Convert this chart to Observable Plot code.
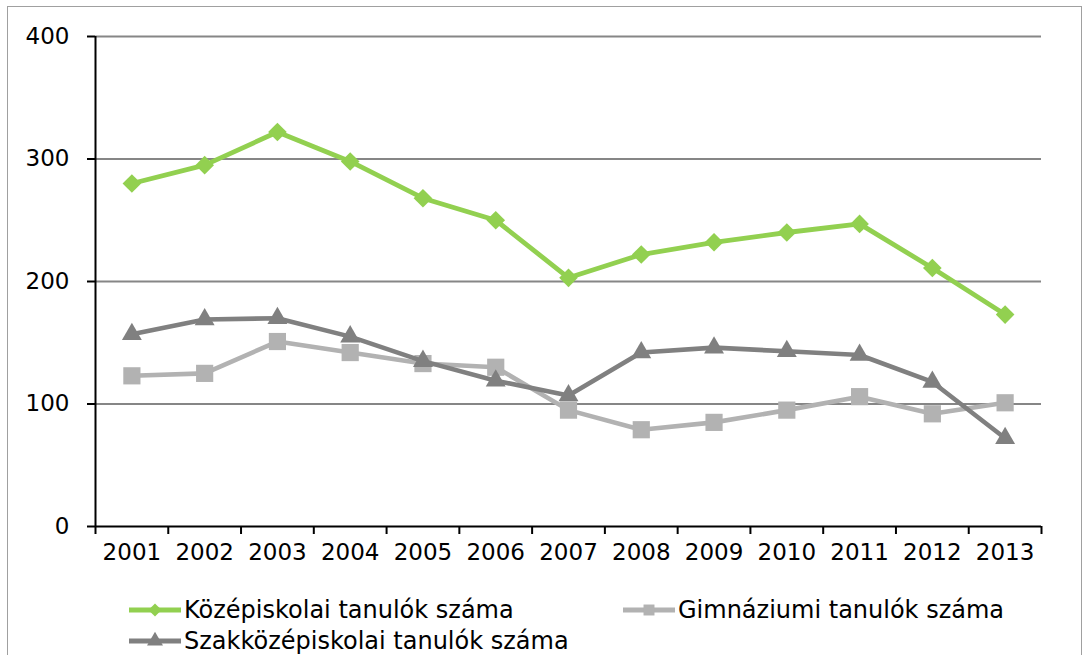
<!DOCTYPE html>
<html>
<head>
<meta charset="utf-8">
<script src="https://cdn.jsdelivr.net/npm/d3@7"></script>
<script src="https://cdn.jsdelivr.net/npm/@observablehq/plot@0.6"></script>
<style>
  html, body { margin: 0; padding: 0; background: #fff; }
  #wrap { position: relative; width: 1084px; height: 655px; overflow: hidden; font-family: "DejaVu Sans", Verdana, sans-serif; }
  #frame { position: absolute; left: 7px; top: 6px; width: 1075px; height: 700px; border: 1.5px solid #a0a0a0; box-sizing: border-box; }
  #chart { position: absolute; left: 0; top: 0; }
  .leg { position: absolute; display: flex; align-items: center; font-size: 24px; color: #000; white-space: nowrap; }
  .leg svg { margin-right: 2px; }
</style>
</head>
<body>
<div id="wrap">
  <div id="frame"></div>
  <div id="chart"></div>
</div>
<script>
const years = [2001, 2002, 2003, 2004, 2005, 2006, 2007, 2008, 2009, 2010, 2011, 2012, 2013];
const kozepiskolai = [280, 295, 322, 298, 268, 250, 203, 222, 232, 240, 247, 211, 173];
const gimnaziumi = [123, 125, 151, 142, 133, 130, 95, 79, 85, 95, 106, 92, 101];
const szakkozep = [157, 169, 170, 155, 135, 119, 107, 142, 146, 143, 140, 118, 72];
const seriesNames = ["Középiskolai tanulók száma", "Gimnáziumi tanulók száma", "Szakközépiskolai tanulók száma"];
const yTicks = [0, 100, 200, 300, 400];

const seriesStyle = [
  {values: kozepiskolai, color: "#92d050", symbol: "diamond2", r: 8.4, width: 4.8},
  {values: gimnaziumi, color: "#b2b2b2", symbol: "square", r: 9.7, width: 4.6},
  {values: szakkozep, color: "#808080", symbol: "triangle", r: 7.4, width: 4.6}
];

const boundaries = d3.range(years.length + 1).map(i => years[0] - 0.5 + i);

const rows = [];
seriesStyle.forEach((s, k) => years.forEach((yr, i) => rows.push({series: seriesNames[k], year: yr, value: s.values[i]})));

// draw order: gimnáziumi, szakközép, középiskolai
const order = [1, 2, 0];
const seriesMarks = [];
for (const k of order) {
  const s = seriesStyle[k];
  const d = rows.filter(r => r.series === seriesNames[k]);
  seriesMarks.push(Plot.line(d, {x: "year", y: "value", stroke: s.color, strokeWidth: s.width, strokeLinejoin: "round"}));
  seriesMarks.push(Plot.dot(d, {x: "year", y: "value", fill: s.color, symbol: () => s.symbol, r: s.r, stroke: "none"}));
}

const chart = Plot.plot({
  width: 1084,
  height: 575,
  marginTop: 36,
  marginBottom: 49,
  marginLeft: 95,
  marginRight: 43,
  style: {fontFamily: "DejaVu Sans, Verdana, sans-serif", fontSize: "23px", color: "#000", background: "transparent", overflow: "visible"},
  x: {type: "linear", domain: [boundaries[0], boundaries[boundaries.length - 1]]},
  y: {domain: [yTicks[0], yTicks[yTicks.length - 1]]},
  symbol: {type: "identity"},
  marks: [
    Plot.ruleY(yTicks.filter(t => t > 0), {stroke: "#868686", strokeWidth: 2}),
    Plot.axisY({ticks: yTicks, tickSize: 8, tickPadding: 18, stroke: "#000", strokeWidth: 2, label: null, tickFormat: d => String(d)}),
    Plot.axisX({ticks: boundaries, tickSize: 8, text: null, stroke: "#000", strokeWidth: 2, label: null}),
    Plot.axisX({ticks: years, tickSize: 0, tickPadding: 17, tickFormat: d => String(d), label: null}),
    Plot.ruleX([boundaries[0]], {stroke: "#000", strokeWidth: 2}),
    Plot.ruleY([yTicks[0]], {stroke: "#000", strokeWidth: 2}),
    ...seriesMarks
  ]
});
document.getElementById("chart").appendChild(chart);

// legend
const legendPos = [[128, 610], [622, 610], [128, 641]];
const symPaths = {
  diamond2: d3.symbol(d3.symbolDiamond2, 110)(),
  square: d3.symbol(d3.symbolSquare, 120)(),
  triangle: d3.symbol(d3.symbolTriangle, 110)()
};
seriesStyle.forEach((s, k) => {
  const div = document.createElement("div");
  div.className = "leg";
  div.style.left = legendPos[k][0] + "px";
  div.style.top = (legendPos[k][1] - 15) + "px";
  div.style.height = "30px";
  div.innerHTML = `<svg width="54" height="30"><line x1="1" x2="53" y1="15" y2="15" stroke="${s.color}" stroke-width="5"/><path transform="translate(27,15)" d="${symPaths[s.symbol]}" fill="${s.color}"/></svg><span>${seriesNames[k]}</span>`;
  document.getElementById("wrap").appendChild(div);
});
</script>
</body>
</html>
